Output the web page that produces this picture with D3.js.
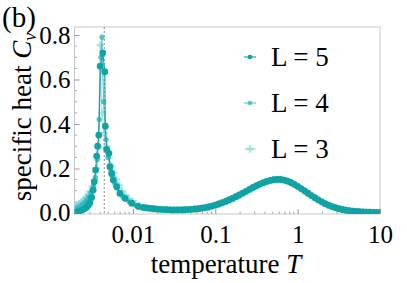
<!DOCTYPE html>
<html>
<head>
<meta charset="utf-8">
<script src="https://cdn.jsdelivr.net/npm/d3@7"></script>
<style>
  body { margin: 0; background: #fff; }
  text { font-family: "Liberation Serif", "Times New Roman", serif; fill: #000; }
</style>
</head>
<body>
<div id="vis"></div>
<script>
// ---- data ----
// sharp low-T peak, one array pair per system size
const peakT5  = [0.00200,0.00221,0.00242,0.00260,0.00274,0.00288,0.00300,0.00315,0.00329,0.00339,0.00352,0.00362,0.00373,0.00385,0.00400,0.00430,0.00455,0.00462,0.00479,0.00510,0.00525,0.00551,0.00577,0.00634,0.00695,0.00800,0.00964,0.01160];
const peakCv5 = [0.002,0.007,0.013,0.020,0.026,0.036,0.046,0.070,0.103,0.140,0.193,0.256,0.300,0.350,0.660,0.720,0.635,0.390,0.286,0.268,0.208,0.178,0.148,0.118,0.088,0.066,0.044,0.030];

const peakT4  = [0.00200,0.00215,0.00230,0.00245,0.00260,0.00275,0.00290,0.00310,0.00330,0.00350,0.00370,0.00390,0.00410,0.00420,0.00440,0.00470,0.00500,0.00530,0.00560,0.00600,0.00640,0.00690,0.00750,0.00820,0.00900,0.01000,0.01100,0.01200];
const peakCv4 = [0.018,0.024,0.031,0.039,0.048,0.059,0.072,0.092,0.120,0.160,0.240,0.420,0.700,0.790,0.500,0.330,0.250,0.200,0.165,0.135,0.112,0.092,0.075,0.062,0.050,0.040,0.033,0.027];

const peakT3  = [0.00200,0.00212,0.00225,0.00240,0.00255,0.00270,0.00285,0.00300,0.00320,0.00340,0.00360,0.00380,0.00400,0.00420,0.00450,0.00480,0.00510,0.00550,0.00590,0.00630,0.00680,0.00740,0.00810,0.00890,0.00980,0.01080,0.01200];
const peakCv3 = [0.030,0.036,0.043,0.051,0.060,0.070,0.082,0.096,0.118,0.148,0.200,0.300,0.755,0.450,0.360,0.300,0.250,0.210,0.180,0.150,0.125,0.100,0.080,0.065,0.052,0.042,0.033];

// broad high-T hump, where all three sizes lie on top of each other
const tailT  = [0.01334,0.01468,0.01616,0.01778,0.01957,0.02154,0.02371,0.02610,0.02873,0.03162,0.03481,0.03831,0.04217,0.04642,0.05109,0.05623,0.06190,0.06813,0.07499,0.08254,0.09085,
  0.1,0.1101,0.1212,0.1334,0.1468,0.1616,0.1778,0.1957,0.2154,0.2371,0.2610,0.2873,0.3162,0.3481,0.3831,0.4217,0.4642,0.5109,0.5623,0.6190,0.6813,0.7499,0.8254,0.9085,
  1,1.101,1.212,1.334,1.468,1.616,1.778,1.957,2.154,2.371,2.610,2.873,3.162,3.481,3.831,4.217,4.642,5.109,5.623,6.190,6.813,7.499,8.254,9.085,10];
const tailCv = [0.025,0.023,0.021,0.019,0.0175,0.0163,0.0155,0.0148,0.0143,0.0140,0.0140,0.0142,0.0146,0.0155,0.0165,0.0180,0.0196,0.0215,0.0240,0.0270,0.0310,
  0.0355,0.0405,0.0460,0.0520,0.0585,0.0655,0.0730,0.0810,0.0890,0.0975,0.1060,0.1145,0.1225,0.1300,0.1365,0.1420,0.1465,0.1495,0.1510,0.1505,0.1480,0.1435,0.1370,0.1290,
  0.1200,0.1100,0.0995,0.0890,0.0785,0.0685,0.0590,0.0500,0.0420,0.0350,0.0290,0.0238,0.0195,0.0158,0.0128,0.0104,0.0085,0.0069,0.0057,0.0047,0.0039,0.0033,0.0028,0.0024,0.0021];

const seriesNames = ["L = 5", "L = 4", "L = 3"];
const transitionT = 0.00448;
const xTickValues = [0.01, 0.1, 1, 10];
const xTickLabels = ["0.01", "0.1", "1", "10"];
const yTickValues = [0.0, 0.2, 0.4, 0.6, 0.8];

// ---- build series ----
function zip(ts, cs) { return ts.map((t, i) => ({ T: t, Cv: cs[i] })); }
const series = [
  { name: seriesNames[2], pts: zip(peakT3.concat(tailT), peakCv3.concat(tailCv)), color: "#6ccfcf", op: 0.55, shape: "cross", r: 2.6 },
  { name: seriesNames[1], pts: zip(peakT4.concat(tailT), peakCv4.concat(tailCv)), color: "#2cbaba", op: 0.8, shape: "circle", r: 2.7 },
  { name: seriesNames[0], pts: zip(peakT5.concat(tailT), peakCv5.concat(tailCv)), color: "#11a3a3", op: 1, shape: "circle", r: 3.4 }
];

const W = 407, H = 283;
const pLeft = 74.5, pRight = 380, pTop = 27, pBottom = 214;
const serif = "'Liberation Serif', 'Times New Roman', serif";

const svg = d3.select("#vis").append("svg")
  .attr("width", W)
  .attr("height", H);

const x = d3.scaleLog().domain([0.00195, 10]).range([pLeft, pRight]);
const y = d3.scaleLinear().domain([-0.0045, 0.836]).range([pBottom, pTop]);

svg.append("clipPath").attr("id", "clip")
  .append("rect")
  .attr("x", pLeft).attr("y", pTop)
  .attr("width", pRight - pLeft).attr("height", pBottom - pTop);

// frame
svg.append("rect")
  .attr("x", pLeft).attr("y", pTop)
  .attr("width", pRight - pLeft).attr("height", pBottom - pTop)
  .attr("fill", "none")
  .attr("stroke", "#c8c8c8")
  .attr("stroke-width", 1);

// x ticks (inward, log minors)
const minorX = [];
[0.001, 0.01, 0.1, 1].forEach(dec => {
  for (let k = 2; k <= 9; k++) minorX.push(dec * k);
});
const xAxis = svg.append("g").attr("transform", `translate(0,${pBottom})`);
xAxis.call(d3.axisBottom(x).tickValues(xTickValues).tickSize(-5).tickFormat((d, i) => xTickLabels[i]).tickPadding(11))
  .call(g => g.select(".domain").remove());
xAxis.attr("font-size", null).attr("font-family", null);
xAxis.selectAll(".tick line").attr("stroke", "#999");
xAxis.selectAll(".tick text").style("font-size", "25px").style("font-family", serif);
svg.append("g").selectAll("line")
  .data(minorX.filter(d => d >= 0.00195 && d <= 10))
  .join("line")
  .attr("x1", d => x(d)).attr("x2", d => x(d))
  .attr("y1", pBottom).attr("y2", pBottom - 2.5)
  .attr("stroke", "#aaa");

// y ticks
const yAxis = svg.append("g").attr("transform", `translate(${pLeft},0)`);
yAxis.call(d3.axisLeft(y).tickValues(yTickValues).tickSize(-5).tickFormat(d3.format(".1f")).tickPadding(4))
  .call(g => g.select(".domain").remove());
yAxis.attr("font-size", null).attr("font-family", null);
yAxis.selectAll(".tick line").attr("stroke", "#999");
yAxis.selectAll(".tick text").style("font-size", "25px").style("font-family", serif);
svg.append("g").selectAll("line")
  .data(d3.range(0.05, 0.83, 0.05).filter(v => Math.abs(v * 5 - Math.round(v * 5)) > 1e-6))
  .join("line")
  .attr("x1", pLeft).attr("x2", pLeft + 2.5)
  .attr("y1", d => y(d)).attr("y2", d => y(d))
  .attr("stroke", "#aaa");

// dashed transition line
svg.append("line")
  .attr("x1", x(transitionT)).attr("x2", x(transitionT))
  .attr("y1", pTop).attr("y2", pBottom)
  .attr("stroke", "#888")
  .attr("stroke-width", 1)
  .attr("stroke-dasharray", "2,2");

// data
const plot = svg.append("g").attr("clip-path", "url(#clip)");
const line = d3.line().x(d => x(d.T)).y(d => y(d.Cv));
const crossPath = d3.symbol().type(d3.symbolCross).size(30);

series.forEach(s => {
  plot.append("path")
    .datum(s.pts)
    .attr("d", line)
    .attr("fill", "none")
    .attr("stroke", s.color)
    .attr("stroke-opacity", s.op)
    .attr("stroke-width", 1.1);
  if (s.shape === "circle") {
    plot.append("g").selectAll("circle")
      .data(s.pts)
      .join("circle")
      .attr("cx", d => x(d.T))
      .attr("cy", d => y(d.Cv))
      .attr("r", s.r)
      .attr("fill", s.color)
      .attr("fill-opacity", s.op);
  } else {
    plot.append("g").selectAll("path")
      .data(s.pts)
      .join("path")
      .attr("transform", d => `translate(${x(d.T)},${y(d.Cv)})`)
      .attr("d", crossPath)
      .attr("fill", s.color)
      .attr("fill-opacity", s.op);
  }
});

// legend
const legend = svg.append("g");
const legendOrder = [series[2], series[1], series[0]];
legendOrder.forEach((s, i) => {
  const ly = 57 + i * 46;
  legend.append("line")
    .attr("x1", 244).attr("x2", 256)
    .attr("y1", ly).attr("y2", ly)
    .attr("stroke", s.color).attr("stroke-opacity", s.op).attr("stroke-width", 1.1);
  if (s.shape === "circle") {
    legend.append("circle").attr("cx", 250).attr("cy", ly).attr("r", 2.3)
      .attr("fill", s.color).attr("fill-opacity", s.op);
  } else {
    legend.append("path").attr("transform", `translate(250,${ly})`).attr("d", crossPath)
      .attr("fill", s.color).attr("fill-opacity", s.op);
  }
  legend.append("text")
    .attr("x", 271).attr("y", ly + 9)
    .style("font-size", "27px")
    .text(s.name);
});

// axis labels
const xl = svg.append("text")
  .attr("x", 226).attr("y", 273)
  .attr("text-anchor", "middle")
  .style("font-size", "27px");
xl.append("tspan").text("temperature ");
xl.append("tspan").attr("font-style", "italic").text("T");

const yl = svg.append("text")
  .attr("transform", "translate(31,117) rotate(-90)")
  .attr("text-anchor", "middle")
  .style("font-size", "27px");
yl.append("tspan").text("specific heat ");
yl.append("tspan").attr("font-style", "italic").text("C");
yl.append("tspan").attr("font-style", "italic").style("font-size", "18px").attr("dy", 5).text("v");

// panel label
svg.append("text")
  .attr("x", 2).attr("y", 27)
  .style("font-size", "29px")
  .text("(b)");
</script>
</body>
</html>
